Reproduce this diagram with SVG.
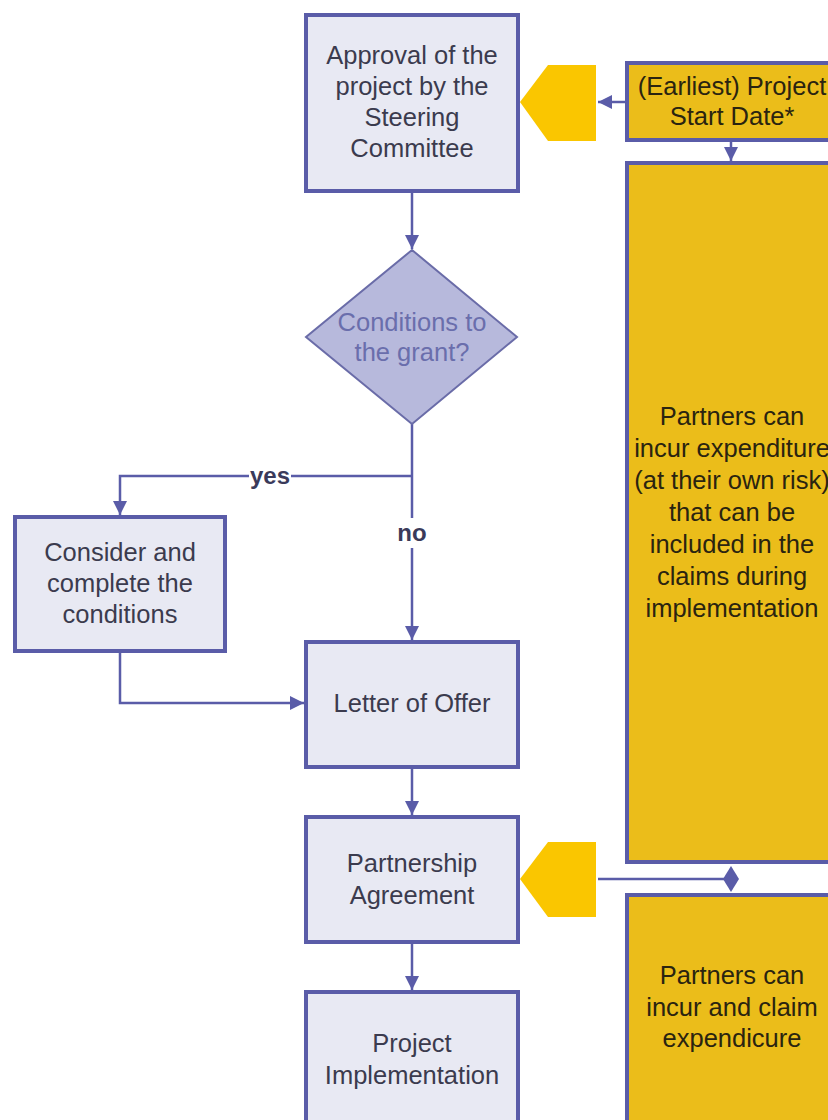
<svg xmlns="http://www.w3.org/2000/svg" width="828" height="1120" viewBox="0 0 828 1120">
<style>
.box{fill:#e8e9f3;stroke:#5a5ca8;stroke-width:4}
.ybox{fill:#ebbd1a;stroke:#5a5ca8;stroke-width:4}
.pent{fill:#fac600}
.dia{fill:#b7b9dc;stroke:#6a6ca8;stroke-width:2}
.t{font-family:"Liberation Sans",Arial,sans-serif;font-size:25.5px;text-anchor:middle;fill:#3b3b4e}
.yt{font-family:"Liberation Sans",Arial,sans-serif;font-size:25.5px;text-anchor:middle;fill:#2a2410}
.dt{font-family:"Liberation Sans",Arial,sans-serif;font-size:25.5px;text-anchor:middle;fill:#6a6eac}
.lbl{font-family:"Liberation Sans",Arial,sans-serif;font-size:24px;font-weight:bold;text-anchor:middle;fill:#3a3a5a}
.c{fill:none;stroke:#5a5ca8;stroke-width:2.5}
</style>
<defs>
<marker id="ah" viewBox="0 0 14 14" refX="14" refY="7" markerWidth="14" markerHeight="14" markerUnits="userSpaceOnUse" orient="auto">
<path d="M0,0 L14,7 L0,14 z" fill="#5a5ca8"/>
</marker>
</defs>
<rect width="828" height="1120" fill="#ffffff"/>

<g id="connectors">
<path class="c" d="M412,193 V249" marker-end="url(#ah)"/>
<path class="c" d="M412,424 V640" marker-end="url(#ah)"/>
<path class="c" d="M412,476 H120 V515" marker-end="url(#ah)"/>
<path class="c" d="M120,653 V703 H304" marker-end="url(#ah)"/>
<path class="c" d="M412,769 V815" marker-end="url(#ah)"/>
<path class="c" d="M412,944 V990" marker-end="url(#ah)"/>
<path class="c" d="M625,102 H598" marker-end="url(#ah)"/>
<path class="c" d="M731,141 V161" marker-end="url(#ah)"/>
<path class="c" d="M598,879 H731"/>
<polygon points="731,866 739,879 731,892 723,879" fill="#5a5ca8"/>
<rect x="249" y="462" width="42" height="28" fill="#ffffff"/>
<text class="lbl" x="270" y="484">yes</text>
<rect x="394" y="518" width="36" height="30" fill="#ffffff"/>
<text class="lbl" x="412" y="541">no</text>
</g>

<g id="approval">
<rect class="box" x="306" y="15" width="212" height="176"/>
<text class="t" x="412" y="64">Approval of the</text>
<text class="t" x="412" y="95">project by the</text>
<text class="t" x="412" y="126">Steering</text>
<text class="t" x="412" y="157">Committee</text>
</g>

<g id="conditions">
<polygon class="dia" points="412,250 517,337 412,424 306,337"/>
<text class="dt" x="412" y="331">Conditions to</text>
<text class="dt" x="412" y="361">the grant?</text>
</g>

<g id="consider">
<rect class="box" x="15" y="517" width="210" height="134"/>
<text class="t" x="120" y="561">Consider and</text>
<text class="t" x="120" y="592">complete the</text>
<text class="t" x="120" y="623">conditions</text>
</g>

<g id="letter">
<rect class="box" x="306" y="642" width="212" height="125"/>
<text class="t" x="412" y="712">Letter of Offer</text>
</g>

<g id="partnership">
<rect class="box" x="306" y="817" width="212" height="125"/>
<text class="t" x="412" y="872">Partnership</text>
<text class="t" x="412" y="904">Agreement</text>
</g>

<g id="implementation">
<rect class="box" x="306" y="992" width="212" height="140"/>
<text class="t" x="412" y="1052">Project</text>
<text class="t" x="412" y="1084">Implementation</text>
</g>

<g id="pentagon1">
<polygon class="pent" points="520,102 548,65 596,65 596,141 548,141"/>
</g>

<g id="pentagon2">
<polygon class="pent" points="520,879 548,842 596,842 596,917 548,917"/>
</g>

<g id="startdate">
<rect class="ybox" x="627" y="63" width="220" height="77"/>
<text class="yt" x="732" y="95">(Earliest) Project</text>
<text class="yt" x="732" y="125">Start Date*</text>
</g>

<g id="preexpenditure">
<rect class="ybox" x="627" y="163" width="220" height="699"/>
<text class="yt" x="732" y="425">Partners can</text>
<text class="yt" x="732" y="457">incur expenditure</text>
<text class="yt" x="732" y="489">(at their own risk)</text>
<text class="yt" x="732" y="521">that can be</text>
<text class="yt" x="732" y="553">included in the</text>
<text class="yt" x="732" y="585">claims during</text>
<text class="yt" x="732" y="617">implementation</text>
</g>

<g id="claim">
<rect class="ybox" x="627" y="895" width="220" height="240"/>
<text class="yt" x="732" y="984">Partners can</text>
<text class="yt" x="732" y="1016">incur and claim</text>
<text class="yt" x="732" y="1047">expendicure</text>
</g>
</svg>
